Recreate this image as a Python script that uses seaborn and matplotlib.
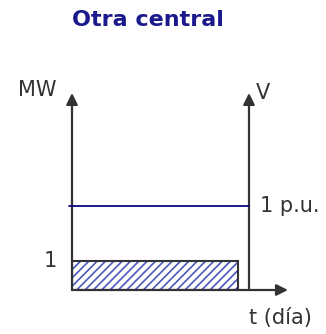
import matplotlib
matplotlib.use("Agg")
import matplotlib.pyplot as plt
import seaborn as sns

# Datos del esquema
titulo = "Otra central"
t_inicio = 0.0
t_fin_generacion = 0.94   # fin del bloque de potencia (fracción del día)
t_fin_dia = 1.0           # eje de tensión
potencia_mw = 1.0         # altura del bloque
tension_pu = 1.0          # nivel de tensión
t_linea = [-0.018, 1.0]
v_linea = [tension_pu, tension_pu]

sns.set_theme(style="white")
plt.rcParams["font.family"] = ["DejaVu Sans"]
plt.rcParams["hatch.linewidth"] = 1.2

gris = "#333333"
azul = "#1a1a8c"

fig = plt.figure(figsize=(3.26, 3.34), dpi=100)
ax = fig.add_axes([72 / 326, 44 / 334, 177 / 326, 197 / 334])
ax.set_xlim(0, 1.0)
ax.set_ylim(0, 197 / 29)
ax2 = ax.twinx()
ax2.set_ylim(0, 197 / 84)

for a in (ax, ax2):
    a.set_xticks([])
    a.set_yticks([])
    for s in a.spines.values():
        s.set_visible(False)
    a.patch.set_alpha(0)

# bloque rayado de potencia
ax.bar(t_inicio, potencia_mw, width=t_fin_generacion - t_inicio, align="edge",
       color="white", edgecolor="#4a58c0", hatch="////", linewidth=0)
ax.bar(t_inicio, potencia_mw, width=t_fin_generacion - t_inicio, align="edge",
       fill=False, edgecolor=gris, linewidth=1.5)

# línea de tensión 1 p.u.
sns.lineplot(x=t_linea, y=v_linea, ax=ax2, color="#0a0a80", linewidth=1.3)
ax2.lines[-1].set_clip_on(False)

# ejes con flechas
arrow = dict(arrowstyle="-|>", color=gris, lw=1.6, mutation_scale=17, shrinkA=0, shrinkB=0)
ax.annotate("", xy=(0, 1.0), xytext=(0, 0), xycoords="axes fraction", arrowprops=arrow)
ax.annotate("", xy=(t_fin_dia, 1.0), xytext=(t_fin_dia, 0.008), xycoords="axes fraction", arrowprops=arrow)
ax.annotate("", xy=(1.22, 0), xytext=(0, 0), xycoords="axes fraction", arrowprops=arrow)

# textos
fs = 15
ax.text(-0.198, 1.015, "MW", transform=ax.transAxes, fontsize=fs, color=gris, ha="center", va="center")
ax.text(1.079, 1.0, "V", transform=ax.transAxes, fontsize=fs, color=gris, ha="center", va="center")
ax.text(-0.085, potencia_mw, "1", fontsize=fs, color=gris, ha="right", va="center")
ax2.text(1.062, tension_pu, "1 p.u.", fontsize=fs, color=gris, ha="left", va="center",
         transform=ax2.get_yaxis_transform())
ax.text(1.18, -0.142, "t (día)", transform=ax.transAxes, fontsize=fs, color=gris, ha="center", va="center")
fig.text(148 / 326, 1 - 20 / 334, titulo, fontsize=16, fontweight="bold", color=azul,
         ha="center", va="center")

fig.savefig("out.png", dpi=100)
